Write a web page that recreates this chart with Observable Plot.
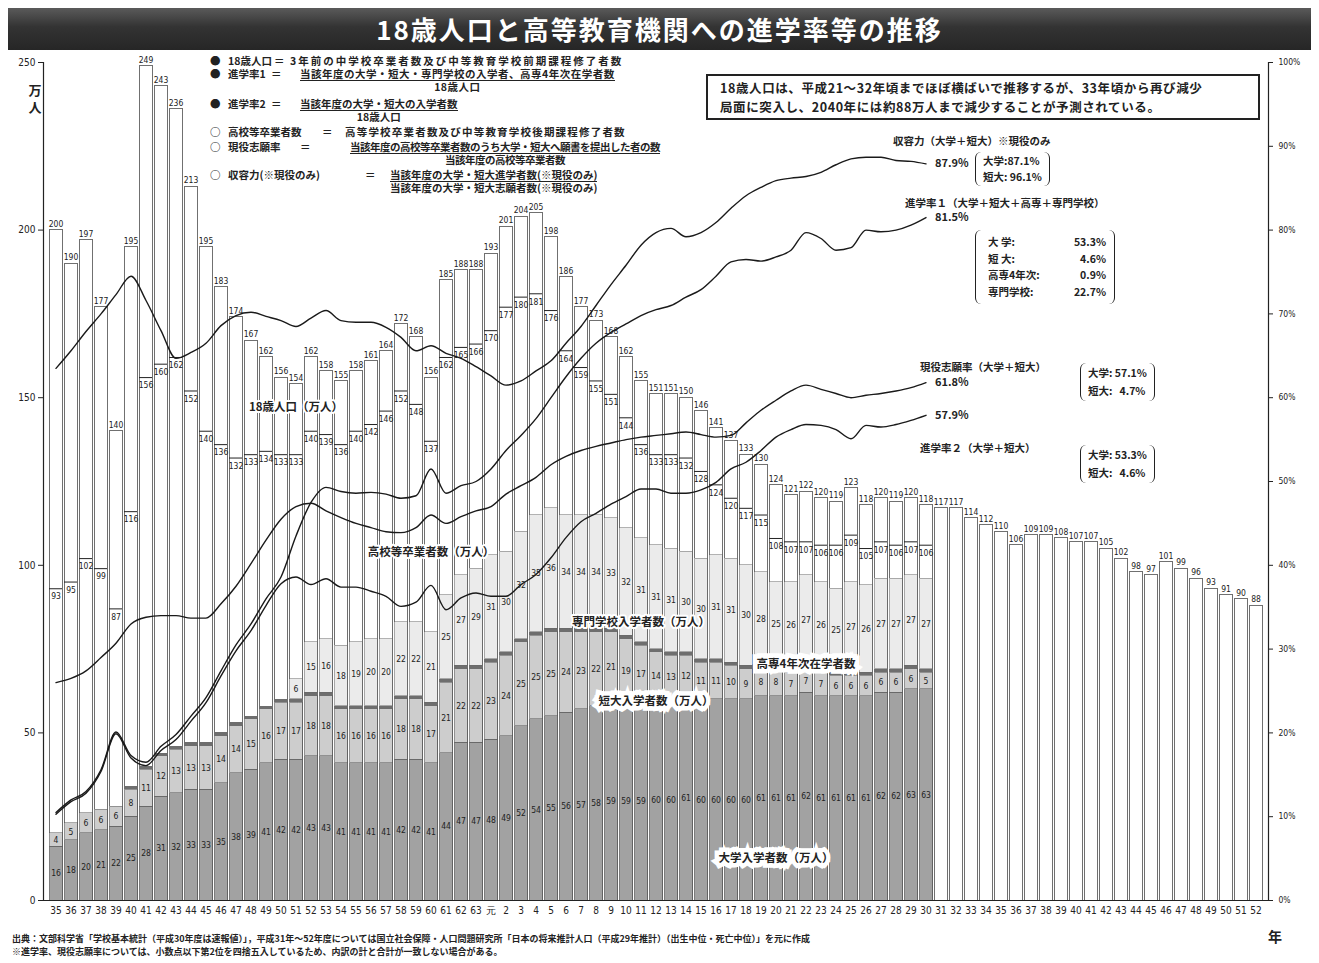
<!DOCTYPE html>
<html><head><meta charset="utf-8">
<script src="https://cdn.jsdelivr.net/npm/d3@7"></script>
<script src="https://cdn.jsdelivr.net/npm/@observablehq/plot@0.6"></script>
<style>
body{margin:0;background:#fff;}
#wrap{position:relative;width:1319px;height:963px;overflow:hidden;background:#fff;}
#title{position:absolute;left:8px;top:8px;width:1303px;height:42px;background:linear-gradient(#5a5a5a,#333 45%,#262626);color:#fff;font-family:"Noto Sans CJK JP",sans-serif;font-weight:bold;font-size:26px;text-align:center;line-height:42px;letter-spacing:2px;}
#chart{position:absolute;left:0;top:50px;}
.ov{position:absolute;font-family:"Noto Sans CJK JP",sans-serif;font-weight:bold;color:#222;white-space:nowrap;}
.lg{font-size:10.5px;line-height:12px;}
.frac{display:flex;flex-direction:column;align-items:center;}
.num{border-bottom:1px solid #222;}
.note{border:2px solid #222;font-size:12.5px;line-height:19px;padding:2px 12px;letter-spacing:0.6px;background:#fff;}
.rl{font-size:10.5px;line-height:13px;}
.br{border-left:1.6px solid #222;border-right:1.6px solid #222;border-radius:6px;padding:1px 7px;font-size:10.5px;line-height:16px;}
.ft{font-size:9px;line-height:12px;}
</style></head>
<body>
<div id="wrap">
<div id="title">18歳人口と高等教育機関への進学率等の推移</div>
<div id="chart"></div>

<div class="ov lg" style="left:210px;top:55px">●</div><div class="ov lg" style="left:228px;top:55px">18歳人口</div><div class="ov lg" style="left:274px;top:55px">＝</div>
<div class="ov lg" style="left:290px;top:55px;letter-spacing:2px">3年前の中学校卒業者数及び中等教育学校前期課程修了者数</div>
<div class="ov lg" style="left:210px;top:68px">●</div><div class="ov lg" style="left:228px;top:68px">進学率1</div><div class="ov lg" style="left:271px;top:68px">＝</div>
<div class="ov lg frac" style="left:300px;top:68px;letter-spacing:0.5px"><div class="num">当該年度の大学・短大・専門学校の入学者、高専4年次在学者数</div><div>18歳人口</div></div>
<div class="ov lg" style="left:210px;top:98px">●</div><div class="ov lg" style="left:228px;top:98px">進学率2</div><div class="ov lg" style="left:271px;top:98px">＝</div>
<div class="ov lg frac" style="left:300px;top:98px"><div class="num">当該年度の大学・短大の入学者数</div><div>18歳人口</div></div>
<div class="ov lg" style="left:210px;top:126px">○</div><div class="ov lg" style="left:228px;top:126px">高校等卒業者数</div><div class="ov lg" style="left:322px;top:126px">＝</div>
<div class="ov lg" style="left:345px;top:126px;letter-spacing:1.2px">高等学校卒業者数及び中等教育学校後期課程修了者数</div>
<div class="ov lg" style="left:210px;top:141px">○</div><div class="ov lg" style="left:228px;top:141px">現役志願率</div><div class="ov lg" style="left:300px;top:141px">＝</div>
<div class="ov lg frac" style="left:350px;top:141px;letter-spacing:-0.5px"><div class="num">当該年度の高校等卒業者数のうち大学・短大へ願書を提出した者の数</div><div>当該年度の高校等卒業者数</div></div>
<div class="ov lg" style="left:210px;top:169px">○</div><div class="ov lg" style="left:228px;top:169px">収容力(※現役のみ)</div><div class="ov lg" style="left:365px;top:169px">＝</div>
<div class="ov lg frac" style="left:390px;top:169px"><div class="num">当該年度の大学・短大進学者数(※現役のみ)</div><div>当該年度の大学・短大志願者数(※現役のみ)</div></div>

<div class="ov note" style="left:706px;top:74px;width:526px;">18歳人口は、平成21～32年頃までほぼ横ばいで推移するが、33年頃から再び減少<br>局面に突入し、2040年には約88万人まで減少することが予測されている。</div>

<div class="ov rl" style="left:893px;top:134px">収容力（大学＋短大）※現役のみ</div>
<div class="ov br" style="left:975px;top:152px">大学:87.1%<br>短大: 96.1%</div>
<div class="ov rl" style="left:905px;top:196px">進学率１（大学＋短大＋高専＋専門学校）</div>
<div class="ov br" style="left:975px;top:230px;width:118px;line-height:16.5px;padding:4px 8px 4px 12px">大 学:<span style="float:right">53.3%</span><br>短 大:<span style="float:right">4.6%</span><br>高専4年次:<span style="float:right">0.9%</span><br>専門学校:<span style="float:right">22.7%</span></div>
<div class="ov rl" style="left:920px;top:360px">現役志願率（大学＋短大）</div>
<div class="ov br" style="left:1080px;top:363px;line-height:18px">大学: 57.1%<br>短大:&nbsp;&nbsp; 4.7%</div>
<div class="ov rl" style="left:920px;top:441px">進学率２（大学＋短大）</div>
<div class="ov br" style="left:1080px;top:445px;line-height:18px">大学: 53.3%<br>短大:&nbsp;&nbsp; 4.6%</div>

<div class="ov" style="left:1268px;top:926px;font-size:14px">年</div>
<div class="ov ft" style="left:12px;top:933px">出典：文部科学省「学校基本統計（平成30年度は速報値）」，平成31年～52年度については国立社会保障・人口問題研究所「日本の将来推計人口（平成29年推計）（出生中位・死亡中位）」を元に作成</div>
<div class="ov ft" style="left:12px;top:946px">※進学率、現役志願率については、小数点以下第2位を四捨五入しているため、内訳の計と合計が一致しない場合がある。</div>
</div>

<script>
// ---- categories (fiscal years 1960..2040) and their tick labels ----
const years = d3.range(1960, 2041);
const xTickLabels = ["35","36","37","38","39","40","41","42","43","44","45","46","47","48","49","50","51","52","53","54","55","56","57","58","59","60","61","62","63","元","2","3","4","5","6","7","8","9","10","11","12","13","14","15","16","17","18","19","20","21","22","23","24","25","26","27","28","29","30","31","32","33","34","35","36","37","38","39","40","41","42","43","44","45","46","47","48","49","50","51","52"];

// 18歳人口 (万人) 1960..2040
const pop18 = [200,190,197,177,140,195,249,243,236,213, 195,183,174,167,162,156,154,162,158,155, 158,161,164,172,168,156,185,188,188,193, 201,204,205,198,186,177,173,168,162,155, 151,151,150,146,141,137,133,130,124,121, 122,120,119,123,118,120,119,120,118,117, 117,114,112,110,106,109,109,108,107,107, 105,102,98,97,101,99,96,93,91,90, 88];
// 高校等卒業者数 (万人) 1960..2018
const hsGrad = [93,95,102,99,87,116,156,160,162,152, 140,136,132,133,134,133,133,140,139,136, 140,142,146,152,148,137,162,165,166,170, 177,180,181,176,164,159,155,151,144,136, 133,133,132,128,124,120,117,115,108,107, 107,106,106,109,105,107,106,107,106];
// 大学入学者数 (万人)
const univ = [16,18,20,21,22,25,28,31,32,33, 33,35,38,39,41,42,42,43,43,41, 41,41,41,42,42,41,44,47,47,48, 49,52,54,55,56,57,58,59,59,59, 60,60,61,60,60,60,60,61,61,61, 62,61,61,61,61,62,62,63,63];
// 短大入学者数 (万人)
const jc = [4,5,6,6,6,8,11,12,13,13, 13,14,14,15,16,17,17,18,18,16, 16,16,16,18,18,17,21,22,22,23, 24,25,25,25,24,23,22,21,19,17, 14,13,12,11,11,10,9,8,8,7, 7,7,6,6,6,6,6,6,5];
// 高専4年次在学者数 (万人)
const kosen = [0,0,0,0,0,1,1,1,1,1, 1,1,1,1,1,1,1,1,1,1, 1,1,1,1,1,1,1,1,1,1, 1,1,1,1,1,1,1,1,1,1, 1,1,1,1,1,1,1,1,1,1, 1,1,1,1,1,1,1,1,1];
// 専門学校入学者数 (万人)
const senmon = [0,0,0,0,0,0,0,0,0,0, 0,0,0,0,0,0,6,15,16,18, 19,20,20,22,22,21,25,27,29,31, 30,32,35,36,34,34,34,33,32,31, 31,31,30,30,31,31,30,28,25,26, 27,26,25,27,26,27,27,27,27];

// rates (%) 1960..2018
const rate1 = [10.5,12.0,13.0,15.6,20.1,17.3,16.5,18.4,19.8,22.0, 24.2,27.4,30.5,33.0,36.0,38.6,43.5,47.5,49.3,48.8, 48.6,48.7,48.5,48.0,48.3,51.5,48.6,49.5,50.0,51.5, 53.7,55.5,57.5,60.0,62.5,64.7,66.5,67.8,68.8,69.8, 70.5,71.0,72.0,72.9,74.5,76.2,76.5,76.3,76.8,77.6, 79.7,79.0,77.6,77.9,80.0,79.8,80.0,80.6,81.5];
const rate2 = [10.3,11.8,12.8,15.4,19.9,17.0,16.1,17.9,19.2,21.4, 23.6,26.8,29.8,32.2,35.2,37.8,38.6,37.7,38.4,37.4, 37.4,36.9,36.3,35.1,35.6,37.6,34.7,36.1,36.7,36.3, 36.3,37.7,38.9,40.9,43.3,45.2,46.2,47.3,48.2,49.1, 49.1,48.6,48.6,49.0,49.9,51.5,52.3,53.7,55.3,56.2, 56.8,56.7,56.2,55.1,56.7,56.5,56.8,57.3,57.9];
const applyRate = [26.0,26.5,27.4,29.0,30.7,33.0,33.8,34.0,34.0,33.7, 33.7,35.4,37.5,40.2,43.0,45.5,47.0,47.4,46.5,45.7, 45.0,44.5,44.0,43.9,44.5,46.0,45.0,45.8,46.5,47.0, 48.5,49.5,50.5,52.0,53.0,53.7,54.2,54.6,55.0,55.3, 55.5,55.7,55.9,55.6,55.3,55.5,57.0,58.5,59.7,60.8, 61.5,61.0,60.5,60.0,60.3,60.5,60.8,61.2,61.8];
const capacity = [63.5,65.6,67.9,70.0,72.3,74.5,71.6,68.0,64.7,65.4, 66.5,68.6,69.8,70.2,69.7,69.2,68.5,69.5,70.4,69.2, 69.0,69.0,68.4,67.2,65.6,66.2,65.3,64.7,63.7,62.6, 61.5,62.0,63.2,64.4,66.5,68.5,71.0,73.5,75.8,78.2, 79.7,80.2,79.2,79.7,80.9,82.6,84.1,85.1,85.9,86.2, 86.4,86.9,87.8,88.5,88.7,88.7,88.3,88.2,87.9];

// in-chart annotation labels
const annotText = ["18歳人口（万人）","高校等卒業者数（万人）","専門学校入学者数（万人）","高専4年次在学者数","短大入学者数（万人）","大学入学者数（万人）"];
const annotYear = [1976,1985,1999,2010,2000,2008];
const annotValue = [147,104,83,70.5,59.5,12.5];
const annotBoxed = [false,false,false,true,true,true];

// ---- tables built from the arrays ----
const popRows = years.map((year, i) => ({year, pop: pop18[i]}));
const histRows = years.slice(0, hsGrad.length).map((year, i) => {
  const u = univ[i], j = jc[i], k = kosen[i], s = senmon[i];
  return {year, hs: hsGrad[i], univ: u, jc: j, kosen: k, senmon: s,
    u1: 0, u2: u, j1: u, j2: u + j, k1: u + j, k2: u + j + k, s1: u + j + k, s2: u + j + k + s};
});
const seriesDefs = [["capacity", capacity], ["rate1", rate1], ["applyRate", applyRate], ["rate2", rate2]];
const lineRows = seriesDefs.flatMap(([s, arr]) => arr.map((v, i) => ({s, year: years[i], v})));
const endRows = seriesDefs.map(([s, arr]) => ({s, year: years[arr.length - 1], v: arr[arr.length - 1]}));
const annots = annotText.map((t, i) => ({t, year: annotYear[i], v: annotValue[i], boxed: annotBoxed[i]}));

const numFont = "'DejaVu Sans Condensed','Liberation Sans Narrow',sans-serif";
const jpFont = "'Noto Sans CJK JP',sans-serif";
const P = 2.5; // 100% on the right axis = 250万人 on the left

const chart = Plot.plot({
  width: 1319, height: 880,
  marginLeft: 43, marginRight: 51, marginTop: 12, marginBottom: 30,
  style: {fontFamily: numFont, fontSize: "10px", color: "#222", background: "transparent"},
  x: {type: "band", domain: years, paddingInner: 0.14, paddingOuter: 0.05, label: null},
  y: {domain: [0, 250], label: null},
  marks: [
    Plot.barY(popRows, {x: "year", y: "pop", fill: "#ffffff", stroke: "#333", strokeWidth: 0.7, shapeRendering: "crispEdges"}),
    Plot.barY(histRows, {x: "year", y1: "u1", y2: "u2", fill: "#a2a2a2", stroke: "#555", strokeWidth: 0.5, shapeRendering: "crispEdges"}),
    Plot.barY(histRows, {x: "year", y1: "j1", y2: "j2", fill: "#cdcdcd", stroke: "#555", strokeWidth: 0.5, shapeRendering: "crispEdges"}),
    Plot.barY(histRows.filter(d => d.kosen > 0), {x: "year", y1: "k1", y2: "k2", fill: "#6e6e6e", shapeRendering: "crispEdges"}),
    Plot.barY(histRows.filter(d => d.senmon > 0), {x: "year", y1: "s1", y2: "s2", fill: "#ebebeb", stroke: "#666", strokeWidth: 0.5, shapeRendering: "crispEdges"}),
    Plot.tickY(histRows, {x: "year", y: "hs", stroke: "#222", strokeWidth: 1}),
    Plot.frame({anchor: "left", stroke: "#222", strokeWidth: 1.2}),
    Plot.frame({anchor: "right", stroke: "#222", strokeWidth: 1.2}),
    Plot.ruleY([0], {stroke: "#222", strokeWidth: 1.2}),
    Plot.axisX({tickSize: 0, tickPadding: 6, fontSize: 10, tickFormat: d => xTickLabels[d - 1960]}),
    Plot.axisY({anchor: "left", ticks: [0, 50, 100, 150, 200, 250], tickSize: 5, tickPadding: 3, fontSize: 10, label: null}),
    Plot.axisY({anchor: "right", ticks: d3.range(0, 251, 25), tickFormat: d => Math.round(d / P) + "%", tickSize: 4, tickPadding: 6, fontSize: 8.5, label: null}),
    Plot.text(["万"], {frameAnchor: "top-left", dx: -15, dy: 23, fontSize: 13, fontFamily: jpFont, fontWeight: "bold"}),
    Plot.text(["人"], {frameAnchor: "top-left", dx: -15, dy: 40, fontSize: 13, fontFamily: jpFont, fontWeight: "bold"}),
    // value labels
    Plot.text(popRows, {x: "year", y: "pop", text: d => String(d.pop), dy: -6, fontSize: 8.5}),
    Plot.text(histRows, {x: "year", y: "hs", text: d => String(d.hs), dy: 8, fontSize: 8.5}),
    Plot.text(histRows, {x: "year", y: d => d.univ / 2, text: d => String(d.univ), fontSize: 8.5}),
    Plot.text(histRows, {x: "year", y: d => d.univ + d.jc / 2, text: d => String(d.jc), fontSize: 8.5}),
    Plot.text(histRows.filter(d => d.senmon > 0), {x: "year", y: d => d.s1 + d.senmon / 2, text: d => String(d.senmon), fontSize: 8.5}),
    // rate lines on the right (%) axis
    Plot.line(lineRows, {x: "year", y: d => d.v * P, z: "s", stroke: "#1a1a1a", strokeWidth: 1.4, curve: "monotone-x"}),
    Plot.text(endRows, {x: "year", y: d => d.v * P, text: d => d.v.toFixed(1) + "%", dx: 9, textAnchor: "start", fontSize: 11, fontFamily: jpFont, fontWeight: "bold"}),
    // annotations
    Plot.text(annots.filter(d => !d.boxed), {x: "year", y: "v", text: "t", fontSize: 11.5, fontFamily: jpFont, fontWeight: "bold", stroke: "white", strokeWidth: 4, fill: "#222"}),
    Plot.text(annots.filter(d => d.boxed), {x: "year", y: "v", text: "t", fontSize: 11.5, fontFamily: jpFont, fontWeight: "bold", stroke: "white", strokeWidth: 9, strokeLinejoin: "miter", fill: "#222"})
  ]
});
document.getElementById("chart").appendChild(chart);
</script>
</body></html>
